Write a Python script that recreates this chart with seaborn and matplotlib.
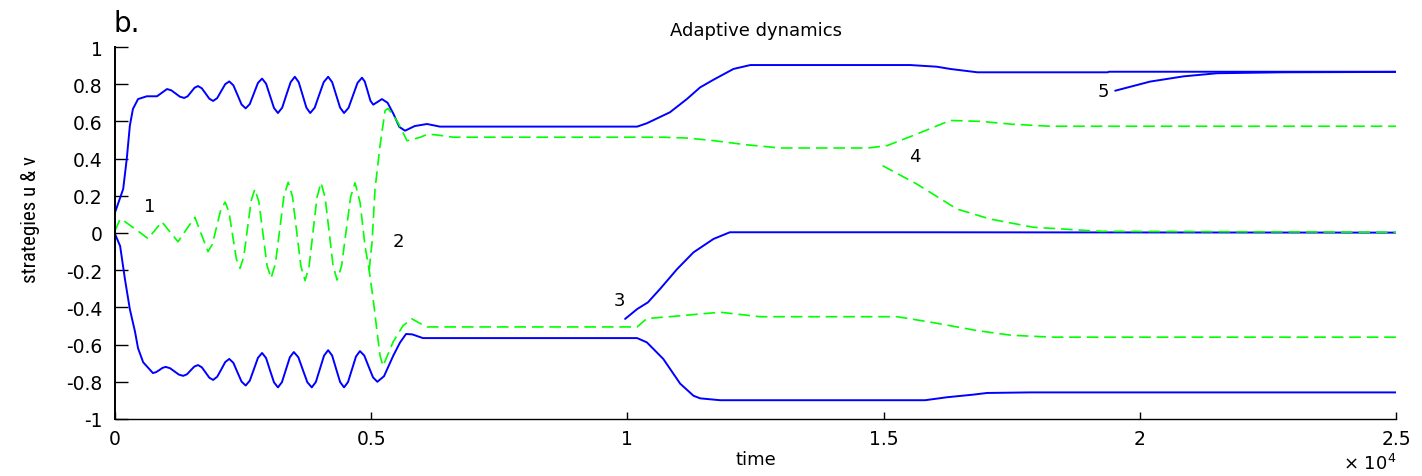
import numpy as np
import pandas as pd
import matplotlib
matplotlib.use("Agg")
import matplotlib.pyplot as plt
from matplotlib.ticker import FuncFormatter, FixedLocator
from matplotlib import font_manager
import seaborn as sns

# ---------------- data ----------------
# blue (strategy u), upper branch
t_u_up = [0, 160, 230, 290, 350, 450, 620, 820, 1015, 1099, 1183, 1266, 1350, 1418, 1485, 1553,
          1620, 1694, 1768, 1841, 1915, 1994, 2073, 2151, 2230, 2310, 2390, 2470, 2550, 2630, 2710,
          2790, 2870, 2948, 3025, 3103, 3180, 3263, 3345, 3428, 3510, 3585, 3660, 3735, 3810, 3898,
          3985, 4073, 4160, 4238, 4315, 4393, 4470, 4558, 4645, 4733, 4820, 4875, 4930, 4985, 5040,
          5125, 5210, 5320, 5435, 5550, 5660, 5850, 6090, 6340, 10190, 10380, 10830, 11160, 11420,
          11680, 12070, 12400, 15520, 16040, 16300, 16830, 19370, 19400, 25000]
u_up = [0.11, 0.237, 0.40, 0.577, 0.667, 0.72, 0.735, 0.735, 0.774, 0.767, 0.750, 0.733, 0.726, 0.735,
        0.758, 0.781, 0.790, 0.778, 0.750, 0.722, 0.710, 0.725, 0.763, 0.800, 0.815, 0.794, 0.743,
        0.691, 0.670, 0.693, 0.750, 0.807, 0.830, 0.803, 0.738, 0.672, 0.645, 0.674, 0.743, 0.811,
        0.840, 0.811, 0.743, 0.674, 0.645, 0.674, 0.743, 0.811, 0.840, 0.811, 0.743, 0.674, 0.645,
        0.673, 0.740, 0.807, 0.835, 0.814, 0.763, 0.711, 0.690, 0.705, 0.720, 0.700, 0.640, 0.570,
        0.550, 0.575, 0.586, 0.572, 0.572, 0.590, 0.649, 0.720, 0.783, 0.824, 0.882, 0.903, 0.903,
        0.894, 0.882, 0.864, 0.864, 0.867, 0.867]

# blue, lower branch
t_u_low = [0, 100, 195, 290, 390, 450, 550, 740, 802, 865, 928, 990, 1075, 1160, 1245, 1330, 1403,
           1475, 1548, 1620, 1694, 1768, 1841, 1915, 1994, 2073, 2151, 2230, 2310, 2390, 2470, 2550,
           2630, 2710, 2790, 2870, 2948, 3025, 3103, 3180, 3258, 3335, 3413, 3490, 3578, 3665, 3753,
           3840, 3920, 4000, 4080, 4160, 4238, 4315, 4393, 4470, 4548, 4625, 4703, 4780, 4865, 4950,
           5035, 5120, 5250, 5430, 5560, 5680, 5800, 6010, 10190, 10380, 10700, 11030, 11290, 11420,
           11810, 15810, 16240, 16750, 17020, 17860, 25000]
u_low = [-0.005, -0.07, -0.25, -0.41, -0.53, -0.62, -0.695, -0.753, -0.748, -0.737, -0.725, -0.72,
         -0.727, -0.744, -0.761, -0.768, -0.760, -0.739, -0.718, -0.71, -0.722, -0.750, -0.778, -0.79,
         -0.773, -0.734, -0.694, -0.677, -0.698, -0.749, -0.799, -0.82, -0.794, -0.733, -0.671,
         -0.645, -0.672, -0.738, -0.803, -0.83, -0.802, -0.735, -0.668, -0.64, -0.668, -0.735, -0.802,
         -0.83, -0.801, -0.730, -0.659, -0.63, -0.659, -0.730, -0.801, -0.83, -0.801, -0.733, -0.664,
         -0.635, -0.659, -0.718, -0.776, -0.80, -0.77, -0.66, -0.59, -0.543, -0.545, -0.565, -0.565,
         -0.588, -0.677, -0.81, -0.875, -0.889, -0.899, -0.899, -0.883, -0.869, -0.860, -0.857, -0.857]

# blue, branch 3 (starts at t = 1e4)
t_u_3 = [9955, 10190, 10400, 10640, 10970, 11290, 11680, 12000, 15300, 25000]
u_3 = [-0.462, -0.409, -0.373, -0.30, -0.194, -0.104, -0.032, 0.004, 0.004, 0.002]

# blue, branch 5 (starts at t = 2e4)
t_u_5 = [19520, 20200, 20850, 21510, 22800, 25000]
u_5 = [0.765, 0.814, 0.842, 0.859, 0.864, 0.866]

# green (strategy v), oscillating part and lower branch
t_v_low = [0, 100, 200, 350, 500, 645, 780, 915, 1070, 1230, 1395, 1560, 1690, 1815, 1899, 1983, 2066,
           2150, 2223, 2295, 2368, 2440, 2513, 2585, 2658, 2730, 2809, 2888, 2966, 3045, 3129, 3213,
           3296, 3380, 3463, 3545, 3628, 3710, 3788, 3865, 3943, 4020, 4099, 4178, 4256, 4335, 4423,
           4510, 4598, 4685, 4782, 4880, 4960, 5036, 5114, 5173, 5231, 5427, 5622, 5797, 5954, 6090,
           10190, 10380, 11030, 11810, 12590, 15260, 15910, 16830, 17500, 18300, 25000]
v_low = [0.012, 0.075, 0.06, 0.03, 0.0, -0.03, 0.015, 0.06, 0.007, -0.047, 0.02, 0.084, -0.01, -0.10,
         -0.061, 0.033, 0.127, 0.166, 0.114, -0.012, -0.138, -0.19, -0.128, 0.023, 0.174, 0.236, 0.166,
         -0.004, -0.173, -0.243, -0.167, 0.015, 0.197, 0.273, 0.196, 0.009, -0.179, -0.256, -0.179,
         0.007, 0.193, 0.27, 0.193, 0.009, -0.176, -0.253, -0.176, 0.009, 0.193, 0.27, 0.165, -0.07,
         -0.2, -0.35, -0.53, -0.66, -0.715, -0.586, -0.498, -0.462, -0.486, -0.505, -0.505, -0.46,
         -0.445, -0.426, -0.45, -0.45, -0.479, -0.525, -0.55, -0.56, -0.56]

# green, upper branch (splits off near t = 5000)
t_v_up = [4960, 5017, 5075, 5173, 5270, 5329, 5520, 5700, 5950, 6110, 6340, 6600, 10700, 11200, 11700,
          12300, 12980, 14700, 15070, 15650, 16300, 16900, 17500, 18250, 25000]
v_up = [-0.2, -0.05, 0.237, 0.47, 0.658, 0.67, 0.595, 0.496, 0.514, 0.532, 0.525, 0.515, 0.515, 0.51,
        0.496, 0.475, 0.457, 0.457, 0.47, 0.532, 0.605, 0.60, 0.585, 0.574, 0.574]

# green, branch 4 (starts at t = 1.5e4)
t_v_4 = [14980, 15650, 16430, 17080, 17920, 19230, 25000]
v_4 = [0.362, 0.263, 0.129, 0.075, 0.031, 0.009, 0.004]

# annotations
label_text = ["1", "2", "3", "4", "5"]
label_t = [683, 5524, 9838, 15616, 19286]
label_v = [0.145, -0.043, -0.36, 0.414, 0.763]

x_ticks = [0, 5000, 10000, 15000, 20000, 25000]
y_ticks = [-1, -0.8, -0.6, -0.4, -0.2, 0, 0.2, 0.4, 0.6, 0.8, 1]
y_tick_labels = ["-1", "-0.8", "-0.6", "-0.4", "-0.2", "0", "0.2", "0.4", "0.6", "0.8", "1"]

# ---------------- long-form table ----------------
parts = []
for name, strat, tt, vv in [("u_up", "u", t_u_up, u_up), ("u_low", "u", t_u_low, u_low),
                            ("u_3", "u", t_u_3, u_3), ("u_5", "u", t_u_5, u_5),
                            ("v_low", "v", t_v_low, v_low), ("v_up", "v", t_v_up, v_up),
                            ("v_4", "v", t_v_4, v_4)]:
    parts.append(pd.DataFrame({"time": tt, "value": vv, "strategy": strat, "branch": name}))
df = pd.concat(parts, ignore_index=True)

# ---------------- style ----------------
sns.set_style("ticks")
plt.rcParams["font.family"] = ["DejaVu Sans"]
plt.rcParams["axes.unicode_minus"] = False
plt.rcParams["mathtext.fontset"] = "dejavusans"
for key in ["text.color", "axes.labelcolor", "xtick.color", "ytick.color", "axes.edgecolor"]:
    plt.rcParams[key] = "black"

# pick a narrow family for the y label if one is installed
installed = {f.name for f in font_manager.fontManager.ttflist}
narrow = [f for f in ["Liberation Sans Narrow", "Roboto Condensed", "Open Sans Condensed",
                      "DejaVu Sans Condensed", "Arial Narrow"] if f in installed]
ylabel_family = narrow[:1] + ["DejaVu Sans"]
ylabel_size = 15 if narrow else 13

fig = plt.figure(figsize=(14.22, 4.77), dpi=100)
ax = fig.add_axes([115 / 1422, 57 / 477, 1281 / 1422, 372 / 477])

sns.lineplot(data=df, x="time", y="value", hue="strategy", style="strategy", units="branch",
             estimator=None, sort=False, legend=False, ax=ax,
             palette={"u": "#0000ff", "v": "#00ff00"},
             dashes={"u": "", "v": (7, 3.5)}, linewidth=1.4)
for line in ax.lines:
    if line.get_color() == "#00ff00":
        line.set_linewidth(1.2)

ax.set_xlim(0, 25000)
ax.set_ylim(-1, 1)
ax.xaxis.set_major_locator(FixedLocator(x_ticks))
fmt = FuncFormatter(lambda x, p: f"{x / 1e4:g}")
ax.xaxis.set_major_formatter(fmt)
ax.set_yticks(y_ticks)
ax.set_yticklabels(y_tick_labels)

for s in ["top", "right"]:
    ax.spines[s].set_visible(False)
ax.spines["left"].set_linewidth(1.4)
ax.spines["bottom"].set_linewidth(1.0)
ax.tick_params(axis="y", direction="in", length=9, width=1.0, labelsize=13.5, pad=9, colors="black")
ax.tick_params(axis="x", direction="in", length=5, width=1.0, labelsize=13.5, pad=7, colors="black")

ax.set_xlabel("time", fontsize=13, labelpad=2, color="black")
ax.set_ylabel("strategies u & v", fontsize=ylabel_size, family=ylabel_family, color="black")
ax.yaxis.set_label_coords(-0.0585, 0.538)
ax.set_title("Adaptive dynamics", fontsize=13, pad=9, color="black")

ax.text(1.0, -0.134, r"$\times\ 10^{4}$", transform=ax.transAxes, ha="right", va="baseline",
        fontsize=13, color="black")
fig.text(113 / 1422, (477 - 32) / 477, "b.", fontsize=20, ha="left", va="baseline", color="black")

for s, tx, vy in zip(label_text, label_t, label_v):
    ax.text(tx, vy, s, fontsize=13, ha="center", va="center", color="black")

fig.savefig("out.png", dpi=100)
